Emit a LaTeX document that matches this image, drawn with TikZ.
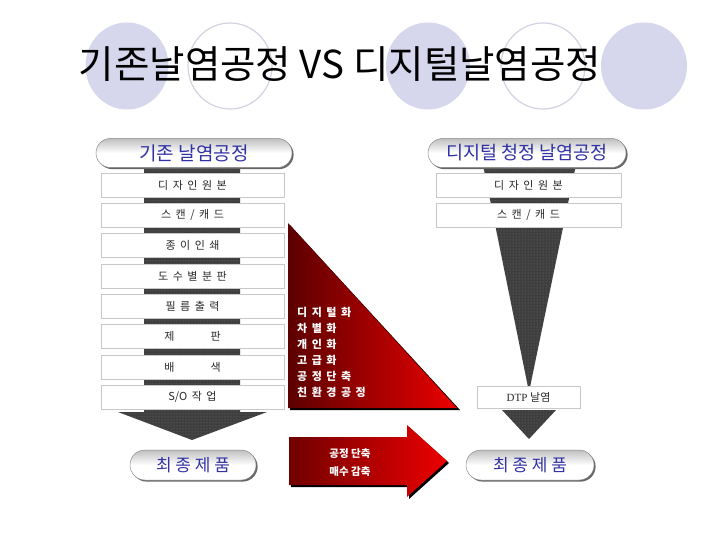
\documentclass[tikz,border=0pt]{standalone}
\usepackage{fontspec}
\setmainfont{Noto Sans CJK KR}
\newfontfamily\serifdtp{Liberation Serif}
\usetikzlibrary{shapes.misc,shadows,patterns}
\newcommand\krwidesp{\spaceskip=4.5pt\relax}
\definecolor{lav}{RGB}{214,214,236}
\definecolor{lavline}{RGB}{210,210,226}
\definecolor{hdrblue}{RGB}{50,50,165}
\definecolor{boxline}{RGB}{200,200,200}
\definecolor{darkarrow}{RGB}{62,62,62}
\definecolor{dotcol}{RGB}{120,120,120}
\definecolor{dkred}{RGB}{92,0,0}
\definecolor{brred}{RGB}{235,0,0}
\definecolor{boxtext}{RGB}{40,40,40}
\tikzset{
  lavfill/.style={fill=lav, draw=none},
  lavring/.style={draw=lavline, line width=1.2pt, fill=none},
  darkshape/.style={fill=darkarrow, draw=none},
  dotshape/.style={pattern=dots, pattern color=dotcol},
  stepbox/.style={rectangle, fill=white, draw=boxline, line width=0.6pt,
    minimum height=24pt, inner sep=0pt, text=boxtext,
    font=\fontsize{11}{13}\selectfont\krwidesp},
  pill/.style={rounded rectangle, draw=black!45, line width=0.5pt,
    top color=black!25, bottom color=white, middle color=white,
    drop shadow={shadow xshift=1.6pt, shadow yshift=-1.6pt, fill=black!60, opacity=1},
    inner sep=0pt, text=hdrblue},
  redtext/.style={text=white, font=\fontsize{11}{16}\selectfont\bfseries\krwidesp, align=left, inner sep=0pt},
}
\begin{document}
\begin{tikzpicture}[x=1pt,y=-1pt]
\useasboundingbox (0,0) rectangle (720,540);
\fill[white] (0,0) rectangle (720,540);
% title circles
\fill[lavfill] (127,66) ellipse [x radius=41.5pt, y radius=43.5pt];
\draw[lavring] (230,66) ellipse [x radius=42pt, y radius=43pt];
\fill[lavfill] (428,66) ellipse [x radius=42pt, y radius=43.5pt];
\draw[lavring] (543,66) ellipse [x radius=42pt, y radius=43pt];
\fill[lavfill] (644,66) ellipse [x radius=43pt, y radius=43.5pt];
\node[anchor=center, inner sep=0pt, font=\fontsize{38.5}{40}\selectfont] (title) at (340,64) {기존날염공정 VS 디지털날염공정};
% left dark arrow
\path[darkshape] (144,160) -- (240,160) -- (240,412) -- (267,412) -- (192,440) -- (118,412) -- (144,412) -- cycle;
\path[dotshape] (144,160) -- (240,160) -- (240,412) -- (267,412) -- (192,440) -- (118,412) -- (144,412) -- cycle;
% right funnel and arrowhead
\path[darkshape] (482,160) -- (577,160) -- (529,392) -- cycle;
\path[dotshape] (482,160) -- (577,160) -- (529,392) -- cycle;
\path[darkshape] (502,410) -- (556,410) -- (529,439) -- cycle;
\path[dotshape] (502,410) -- (556,410) -- (529,439) -- cycle;
% left boxes
\node[stepbox, minimum width=183pt] (l1) at (192.5,185) {디 자 인 원 본};
\node[stepbox, minimum width=183pt] (l2) at (192.5,215) {스 캔 / 캐 드};
\node[stepbox, minimum width=183pt] (l3) at (192.5,245.5) {종 이 인 쇄};
\node[stepbox, minimum width=183pt] (l4) at (192.5,276) {도 수 별 분 판};
\node[stepbox, minimum width=183pt] (l5) at (192.5,306.5) {필 름 출 력};
\node[stepbox, minimum width=183pt] (l6) at (192.5,336.5) {제\hspace{36pt}판};
\node[stepbox, minimum width=183pt] (l7) at (192.5,367) {배\hspace{36pt}색};
\node[stepbox, minimum width=183pt] (l8) at (192.5,397) {S/O 작 업};
% right boxes
\node[stepbox, minimum width=185pt] (r1) at (528.5,185) {디 자 인 원 본};
\node[stepbox, minimum width=185pt] (r2) at (528.5,215) {스 캔 / 캐 드};
\node[stepbox, minimum width=103pt, minimum height=22pt, font=\fontsize{11}{13}\selectfont] (r3) at (528.5,397) {\serifdtp DTP\ \rmfamily 날염};
% headers
\node[pill, minimum width=196pt, minimum height=29pt, font=\fontsize{19}{21}\selectfont] (hdrL) at (194,153) {기존 날염공정};
\node[pill, minimum width=198pt, minimum height=29pt, font=\fontsize{18.5}{21}\selectfont] (hdrR) at (527,153) {디지털 청정 날염공정};
% red triangle
\fill[black] (290,225) -- (290,410) -- (460,410) -- cycle;
\shade[left color=dkred, right color=brred] (288,223) -- (288,408) -- (457,408) -- cycle;
\node[redtext, anchor=west] (tri) at (297,352) {디 지 털 화\\차 별 화\\개 인 화\\고 급 화\\공 정 단 축\\친 환 경 공 정};
% red arrow
\fill[black] (291,439) -- (409,439) -- (409,427) -- (449,463) -- (409,499) -- (409,487) -- (291,487) -- cycle;
\shade[left color=dkred!85!brred, right color=brred] (289,437) -- (407,437) -- (407,425) -- (447,461) -- (407,497) -- (407,485) -- (289,485) -- cycle;
\node[text=white, font=\fontsize{10.5}{18}\selectfont\bfseries, align=center, inner sep=0pt] (arrtext) at (350,463) {공정 단축\\매수 감축};
% final products
\node[pill, minimum width=126pt, minimum height=30pt, font=\fontsize{17}{19}\selectfont] (endL) at (193,465) {최 종 제 품};
\node[pill, minimum width=128pt, minimum height=30pt, font=\fontsize{17}{19}\selectfont] (endR) at (530,465) {최 종 제 품};
\end{tikzpicture}
\end{document}
